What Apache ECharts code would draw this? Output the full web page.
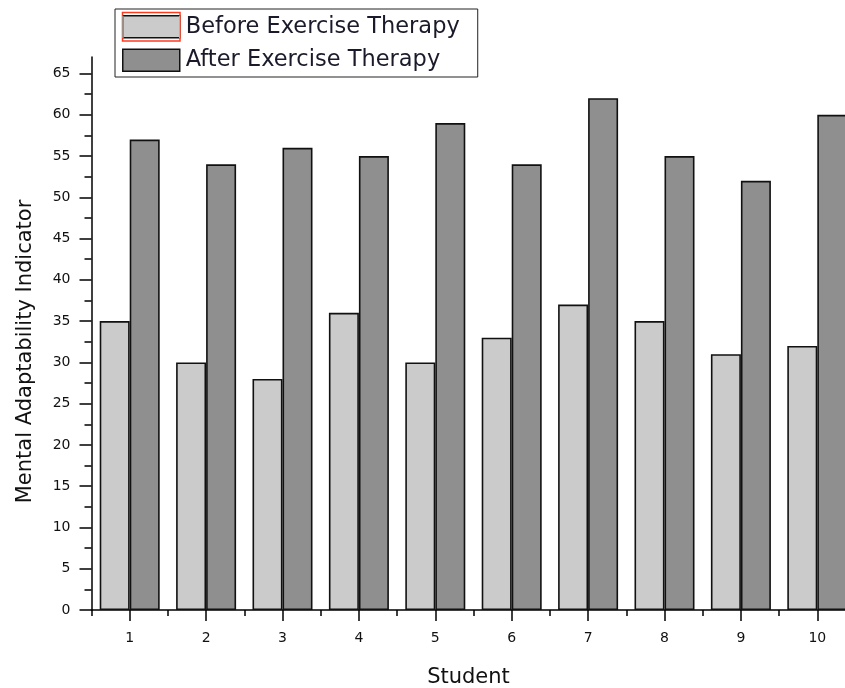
<!DOCTYPE html>
<html>
<head>
<meta charset="utf-8">
<script src="https://cdn.jsdelivr.net/npm/echarts@6/dist/echarts.min.js"></script>
<style>
  html, body { margin: 0; padding: 0; background: #fff; overflow: hidden; }
  #chart { width: 856px; height: 688px; }
</style>
</head>
<body>
<div id="chart"></div>
<script>
const categories = ['1', '2', '3', '4', '5', '6', '7', '8', '9', '10'];
const seriesNames = ['Before Exercise Therapy', 'After Exercise Therapy'];
const beforeValues = [35, 30, 28, 36, 30, 33, 37, 35, 31, 32];
const afterValues = [57, 54, 56, 55, 59, 54, 62, 55, 52, 60];
const yTickLabels = [0, 5, 10, 15, 20, 25, 30, 35, 40, 45, 50, 55, 60, 65];
const yMinorTicks = yTickLabels.slice(0, -1).map(v => v + 2.5);
const xTitle = 'Student';
const yTitle = 'Mental Adaptability Indicator';

const FONT = 'DejaVu Sans';
const axisColor = '#000';

const chart = echarts.init(document.getElementById('chart'), null, { renderer: 'canvas' });
const option = {
  animation: false,
  backgroundColor: '#fff',
  textStyle: { fontFamily: FONT },
  grid: { left: 91.5, top: 57, right: 0.5, height: 553, containLabel: false, outerBoundsMode: 'none' },
  legend: {
    orient: 'vertical',
    left: 115,
    top: 9,
    padding: [6, 18, 5, 7],
    borderColor: '#222',
    borderWidth: 1,
    itemWidth: 57,
    itemHeight: 22,
    itemGap: 10,
    icon: 'rect',
    data: seriesNames,
    itemStyle: { borderColor: '#111', borderWidth: 1.5 },
    textStyle: { fontFamily: FONT, fontSize: 22.5, color: '#1a1a2a', padding: [0, 0, 0, 1] }
  },
  xAxis: [
    {
      type: 'category',
      data: categories,
      position: 'bottom',
      axisLine: { show: true, lineStyle: { color: axisColor, width: 1.5 } },
      axisTick: { show: true, alignWithLabel: true, length: 11, lineStyle: { color: axisColor, width: 1.5 } },
      axisLabel: { margin: 21, fontSize: 14, color: '#111', fontFamily: FONT },
      splitLine: { show: false },
      name: xTitle,
      nameLocation: 'middle',
      nameGap: 57,
      nameTextStyle: { fontSize: 21, color: '#111', fontFamily: FONT, padding: [0, 10, 0, 0] }
    },
    {
      type: 'category',
      data: categories,
      position: 'bottom',
      axisLine: { show: false },
      axisTick: { show: true, alignWithLabel: false, length: 6, lineStyle: { color: axisColor, width: 1.5 } },
      axisLabel: { show: false },
      splitLine: { show: false }
    }
  ],
  yAxis: [
    {
      type: 'value',
      min: 0,
      max: 67,
      position: 'left',
      axisLine: { show: true, lineStyle: { color: axisColor, width: 1.5 } },
      axisTick: { show: true, length: 12, customValues: yTickLabels, lineStyle: { color: axisColor, width: 1.5 } },
      axisLabel: { customValues: yTickLabels, margin: 21, fontSize: 14, color: '#111', fontFamily: FONT },
      splitLine: { show: false },
      name: yTitle,
      nameLocation: 'middle',
      nameGap: 55,
      nameTextStyle: { fontSize: 21, color: '#111', fontFamily: FONT, padding: [0, 36, 0, 0] }
    },
    {
      type: 'value',
      min: 0,
      max: 67,
      position: 'left',
      axisLine: { show: false },
      axisTick: { show: true, length: 7, customValues: yMinorTicks, lineStyle: { color: axisColor, width: 1.5 } },
      axisLabel: { show: false },
      splitLine: { show: false }
    }
  ],
  series: [
    {
      name: seriesNames[0],
      type: 'bar',
      data: beforeValues,
      barWidth: 30,
      barGap: '0%',
      itemStyle: { color: '#cbcbcb', borderColor: '#111', borderWidth: 1.6 }
    },
    {
      name: seriesNames[1],
      type: 'bar',
      data: afterValues,
      barWidth: 30,
      barGap: '0%',
      itemStyle: { color: '#8f8f8f', borderColor: '#111', borderWidth: 1.6 }
    }
  ],
  graphic: [
    { type: 'rect', z: 100, shape: { x: 122.5, y: 12.5, width: 57.5, height: 28.5 }, style: { fill: 'none', stroke: '#ff3b1f', lineWidth: 1.5 } },
    { type: 'line', z: 101, shape: { x1: 123, y1: 16, x2: 123, y2: 38 }, style: { stroke: '#40e0e8', lineWidth: 1 } },
    { type: 'line', z: 101, shape: { x1: 179.5, y1: 16, x2: 179.5, y2: 38 }, style: { stroke: '#40e0e8', lineWidth: 1 } }
  ]
};
chart.setOption(option);
</script>
</body>
</html>
